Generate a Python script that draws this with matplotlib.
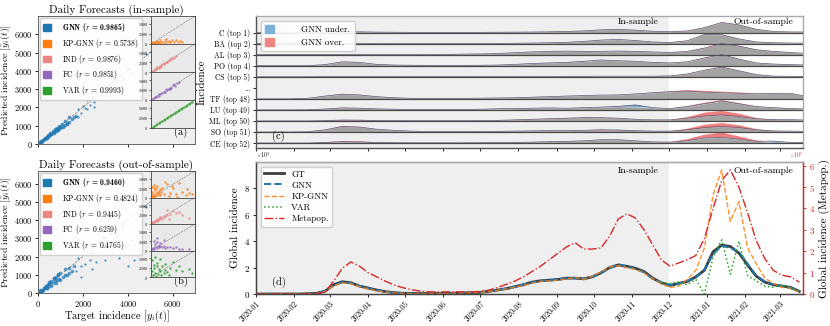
import numpy as np
import pandas as pd
import matplotlib
matplotlib.use('Agg')
import matplotlib.pyplot as plt
import matplotlib.dates as mdates
from matplotlib.patches import Patch

plt.rcParams['font.family'] = 'serif'
plt.rcParams['font.serif'] = ['cmr10']
plt.rcParams['mathtext.fontset'] = 'cm'
plt.rcParams['axes.formatter.use_mathtext'] = True
plt.rcParams['axes.unicode_minus'] = False

#### data ####
# scatter panels (a) in-sample, (b) out-of-sample
models = ['GNN', 'KP-GNN', 'IND', 'FC', 'VAR']
r_in = ['0.9865', '0.5738', '0.9876', '0.9851', '0.9993']
r_out = ['0.9460', '0.4824', '0.9445', '0.6259', '0.4765']

a_core_x = [30, 60, 90, 120, 150, 180, 220, 260, 300, 340, 380, 420, 460, 500, 550, 600, 650, 700, 750, 800,
            850, 900, 950, 1000, 1050, 1100, 1200, 1300, 1400, 1500, 100, 200, 300, 400, 500, 600, 700, 800,
            900, 1000, 1100, 1200, 1300, 1400, 1600, 1700]
a_core_y = [40, 50, 110, 100, 170, 160, 230, 250, 330, 310, 400, 390, 480, 470, 580, 560, 690, 650, 800, 740,
            880, 830, 1000, 920, 1100, 980, 1250, 1150, 1450, 1350, 60, 150, 260, 350, 430, 520, 600, 700,
            780, 900, 950, 1050, 1100, 1200, 1450, 1550]
a_sparse_x = [1800, 1900, 2000, 2100, 2200, 2300, 2400, 2500, 2600, 2700, 2800, 2900, 3000, 3100, 3200, 3300,
              3500, 3600, 3800, 4000, 4200, 4400, 4600, 4800, 2000, 2300, 2600, 3000, 3400, 1800, 2200, 2500]
a_sparse_y = [1900, 1700, 2100, 1950, 2400, 2150, 2500, 2300, 2800, 2600, 2700, 3100, 2900, 3300, 3000, 3500,
              3400, 3700, 3600, 4100, 3900, 4500, 4300, 4900, 2900, 2800, 3200, 2600, 3000, 1500, 1900, 2000]

b_core_x = [30, 60, 90, 120, 150, 180, 220, 260, 300, 340, 380, 420, 460, 500, 550, 600, 650, 700, 750, 800,
            850, 900, 950, 1000, 1100, 1200, 1300, 1400, 1500, 1600, 100, 200, 300, 400, 500, 600, 700, 800,
            900, 1000, 1200, 1400]
b_core_y = [20, 60, 70, 130, 110, 190, 180, 280, 250, 360, 300, 450, 380, 560, 470, 680, 550, 800, 640, 900,
            700, 1000, 780, 1100, 900, 1300, 1000, 1400, 1200, 1500, 150, 120, 350, 250, 600, 400, 850, 550,
            1050, 700, 1000, 1100]
b_sparse_x = [1700, 1800, 1900, 2000, 2100, 2200, 2300, 2400, 2500, 2600, 2700, 2800, 2900, 3000, 3100, 3200,
              3300, 3400, 3500, 3600, 3800, 3900, 4000, 4200, 4300, 4500, 4800, 2000, 2200, 2600, 3000, 1900, 2400]
b_sparse_y = [1200, 1900, 1500, 2300, 1600, 2500, 1800, 2200, 2600, 1700, 2900, 2400, 3100, 1800, 2700, 3300,
              2200, 2800, 3200, 1900, 3700, 2500, 1500, 2900, 1800, 2400, 4700, 4100, 3400, 4300, 3000, 900, 1300]

# inset scatters (KP-GNN, IND, FC, VAR)
a_kp_x = [100, 300, 500, 700, 900, 1100, 1300, 1500, 1800, 2000, 2200, 2500, 2800, 3000, 3300, 3600, 4000, 4300,
          4600, 5000, 200, 600, 1000, 1400, 2400]
a_kp_y = [50, 150, 300, 200, 400, 250, 500, 300, 600, 350, 700, 450, 800, 500, 900, 400, 1000, 600, 700, 500,
          400, 600, 800, 1000, 1200]
a_ind_x = [200, 400, 600, 800, 1000, 1200, 1400, 1600, 1800, 2000, 2200, 2500, 2800, 3000, 3300, 3600, 4000,
           1000, 1500, 2000, 2600, 3200]
a_ind_y = [300, 350, 700, 700, 1100, 1100, 1500, 1500, 1900, 1900, 2300, 2400, 2900, 2900, 3400, 3500, 4100,
           1300, 1300, 2300, 2500, 3500]
a_fc_x = [200, 400, 600, 800, 1000, 1200, 1500, 1800, 2000, 2200, 2500, 2800, 3000, 3200, 3500, 3800, 4200, 4500,
          1300, 2400, 3000, 3600]
a_fc_y = [250, 400, 700, 750, 1100, 1100, 1600, 1700, 2100, 2100, 2600, 2700, 3100, 3000, 3700, 3600, 4300, 4400,
          1600, 2700, 2800, 3900]
a_var_x = [50, 250, 500, 750, 1000, 1250, 1500, 1750, 2000, 2250, 2500, 2750, 3000, 3250, 3500, 3750, 4000, 4250,
           4500, 4750, 5000, 5250, 5500, 5750, 6000, 6250, 6500]
a_var_y = [60, 240, 510, 740, 1010, 1240, 1510, 1740, 2010, 2240, 2510, 2740, 3010, 3240, 3510, 3740, 4010, 4240,
           4510, 4740, 5010, 5240, 5510, 5740, 6010, 6240, 6510]

b_kp_x = [100, 200, 300, 400, 500, 600, 800, 1000, 1200, 1400, 1600, 1800, 2000, 300, 600, 900, 1200, 1500, 200,
          500, 800, 1100, 2500, 3000, 3500, 4000, 4500, 5000, 5500, 6000, 6500, 2200, 2800, 3300, 4200, 5800]
b_kp_y = [300, 1500, 800, 2500, 500, 2000, 1200, 3000, 800, 2200, 1500, 2600, 1000, 200, 400, 600, 1800, 700, 2800,
          3200, 2600, 1500, 3500, 1200, 2600, 800, 3800, 1500, 600, 1200, 900, 4200, 400, 3000, 200, 2200]
b_ind_x = [100, 300, 500, 700, 900, 1100, 1300, 1500, 1700, 2000, 2300, 2600, 3000, 3500, 4000, 4500, 5000, 6000,
           200, 600, 1000, 1400, 2500, 2800]
b_ind_y = [200, 300, 600, 700, 900, 1000, 1200, 1500, 1400, 1900, 2000, 2500, 2600, 3500, 2900, 3200, 2500, 1500,
           500, 900, 1300, 1800, 3800, 1200]
b_fc_x = [100, 300, 500, 700, 900, 1100, 1300, 1500, 1800, 2000, 2300, 2600, 3000, 3500, 4000, 4500, 5000, 6000,
          500, 900, 1400, 2100, 600, 1000]
b_fc_y = [300, 600, 400, 900, 700, 1200, 800, 1100, 900, 1300, 700, 1000, 900, 600, 800, 500, 400, 300,
          2500, 3300, 2000, 2800, 1600, 2200]
b_var_x = [100, 300, 500, 700, 900, 1100, 1300, 1500, 1800, 2000, 2300, 2600, 3000, 3500, 4000, 4500, 5000, 6000,
           6500, 200, 600, 1000, 1400, 400, 800, 1600, 2200, 2800]
b_var_y = [1500, 500, 2500, 1000, 3000, 800, 2000, 1500, 2800, 1000, 3500, 1200, 2500, 4000, 1800, 3000, 1500,
           2200, 1000, 4500, 5200, 3800, 4800, 3200, 200, 600, 1800, 500]

# panel (c): normalised incidence per province, every 14 days from 2020-01-01
row_labels = ['C (top 1)', 'BA (top 2)', 'AL (top 3)', 'PO (top 4)', 'CS (top 5)',
              'TF (top 48)', 'LU (top 49)', 'ML (top 50)', 'SO (top 51)', 'CE (top 52)']
gt_C = [0, 0, 0, 0, .02, .08, .07, .04, .03, .02, .02, .02, .02, .02, .03, .04, .05, .07, .10, .15, .25, .30, .22, .12, .08, .15, .45, .92, .70, .30, .10, .06, .05]
pr_C = [0, 0, 0, 0, .02, .09, .07, .04, .03, .02, .02, .02, .02, .02, .03, .04, .05, .08, .11, .16, .26, .31, .23, .13, .09, .18, .50, .95, .74, .33, .12, .07, .05]
gt_BA = [0, 0, 0, 0, .01, .03, .03, .02, .01, .01, .01, .01, .01, .01, .02, .03, .05, .08, .12, .20, .32, .38, .28, .15, .10, .25, .82, .80, .42, .15, .08, .05, .04]
pr_BA = [0, 0, 0, 0, .01, .04, .03, .02, .01, .01, .01, .01, .01, .01, .02, .03, .05, .08, .13, .21, .33, .37, .29, .16, .12, .28, .85, .84, .45, .17, .09, .06, .04]
gt_AL = [0, 0, 0, 0, 0, .02, .02, .01, .01, .01, .02, .03, .05, .07, .10, .18, .25, .30, .32, .30, .30, .33, .30, .25, .20, .30, .60, 1.0, .78, .45, .30, .20, .10]
pr_AL = [0, 0, 0, 0, 0, .02, .02, .01, .01, .01, .02, .03, .05, .08, .11, .19, .26, .31, .33, .32, .31, .34, .31, .26, .22, .34, .65, 1.04, .82, .48, .32, .22, .10]
gt_PO = [0, 0, 0, 0, .10, .35, .30, .12, .06, .04, .03, .03, .03, .04, .06, .12, .20, .25, .30, .40, .52, .45, .40, .30, .25, .35, .70, 1.0, .60, .25, .15, .10, .06]
pr_PO = [0, 0, 0, 0, .11, .38, .30, .13, .06, .04, .03, .03, .03, .04, .06, .12, .21, .26, .31, .42, .50, .47, .41, .31, .27, .38, .74, 1.03, .63, .27, .16, .11, .06]
gt_CS = [0, 0, 0, 0, .01, .03, .03, .02, .01, .01, .01, .01, .01, .01, .02, .02, .03, .03, .04, .04, .05, .05, .05, .05, .08, .25, .60, .88, .55, .20, .06, .04, .03]
pr_CS = [0, 0, 0, 0, .01, .03, .03, .02, .01, .01, .01, .01, .01, .01, .02, .02, .03, .03, .04, .04, .05, .05, .05, .06, .10, .28, .63, .92, .58, .22, .07, .04, .03]
gt_TF = [0, 0, 0, .05, .25, .42, .35, .20, .10, .05, .05, .05, .05, .06, .08, .10, .15, .20, .25, .30, .34, .35, .45, .55, .65, .70, .60, .55, .50, .45, .50, .50, .20]
pr_TF = [0, 0, 0, .05, .27, .45, .38, .21, .10, .05, .05, .05, .05, .06, .08, .11, .16, .21, .26, .31, .33, .37, .44, .58, .68, .80, .72, .65, .58, .50, .52, .50, .20]
gt_LU = [0, 0, 0, .01, .08, .18, .15, .10, .06, .04, .03, .03, .04, .06, .10, .12, .15, .18, .15, .20, .25, .32, .45, .20, .12, .30, .55, .80, .55, .30, .20, .12, .08]
pr_LU = [0, 0, 0, .01, .08, .20, .17, .10, .06, .04, .03, .03, .04, .05, .08, .12, .13, .17, .15, .20, .25, .30, .28, .20, .13, .35, .65, .88, .62, .33, .22, .13, .08]
gt_ML = [0, 0, 0, 0, .03, .08, .07, .04, .03, .02, .02, .02, .02, .03, .05, .10, .15, .20, .25, .30, .30, .25, .15, .10, .10, .25, .45, .55, .40, .20, .12, .12, .08]
pr_ML = [0, 0, 0, 0, .05, .14, .12, .06, .03, .02, .02, .02, .02, .03, .06, .11, .17, .23, .28, .34, .32, .27, .16, .11, .12, .40, .80, .95, .70, .30, .15, .12, .08]
gt_SO = [0, 0, 0, .02, .20, .50, .45, .25, .15, .08, .04, .04, .04, .05, .06, .08, .10, .12, .12, .15, .20, .18, .12, .08, .08, .20, .40, .50, .40, .20, .10, .08, .05]
pr_SO = [0, 0, 0, .02, .22, .55, .48, .26, .15, .08, .04, .04, .04, .05, .06, .08, .11, .13, .13, .17, .24, .21, .13, .09, .10, .35, .70, .85, .65, .30, .12, .08, .05]
gt_CE = [0, 0, 0, 0, .05, .12, .10, .05, .03, .02, .02, .02, .02, .03, .04, .06, .08, .12, .15, .20, .30, .30, .20, .10, .08, .20, .45, .50, .35, .15, .18, .05, .04]
pr_CE = [0, 0, 0, 0, .08, .18, .15, .07, .03, .02, .02, .02, .02, .03, .04, .06, .09, .13, .16, .22, .32, .31, .21, .11, .10, .35, .75, .95, .60, .25, .08, .06, .04]

# panel (d): global incidence, weekly from 2020-01-01
gt_global = [0, 0, 0, 0, 0, 0, 20, 50, 200, 700, 930, 850, 600, 450, 300, 180, 100,
             60, 50, 40, 40, 40, 50, 60, 80, 100, 120, 200, 300, 400, 550, 700,
             900, 1000, 1050, 1100, 1200, 1200, 1150, 1300, 1600, 2000, 2200, 2100, 1950, 1700, 1200, 850,
             650, 800, 950, 1300, 1800, 3200, 3700, 3600, 3100, 2200, 1350, 900, 700, 600, 500, 200]
gnn_global = [0, 0, 0, 0, 0, 0, 20, 60, 250, 650, 900, 820, 620, 430, 290, 170, 100,
              60, 50, 40, 40, 40, 50, 60, 80, 110, 130, 210, 290, 420, 540, 720,
              880, 1010, 1030, 1120, 1180, 1220, 1130, 1320, 1580, 1950, 2250, 2080, 1900, 1650, 1150, 880,
              680, 780, 1000, 1250, 1850, 3000, 3650, 3500, 3200, 2300, 1400, 950, 720, 580, 480, 220]
kpgnn_global = [0, 0, 0, 0, 0, 0, 10, 40, 180, 620, 850, 780, 560, 380, 250, 150, 80,
                50, 40, 40, 40, 40, 50, 60, 80, 100, 120, 180, 280, 380, 520, 650,
                820, 950, 1000, 1050, 1150, 1250, 1100, 1350, 1650, 2050, 2150, 2000, 1850, 1600, 1150, 800,
                500, 600, 1100, 1800, 3500, 7500, 9400, 5500, 7000, 3500, 2300, 1200, 800, 500, 450, 150]
var_global = [850, 800, 900, 700, 1100, 0, 2800, 4100, 1500, 4000, 1400, 1000, 600, 500, 700, 400, 200]  # from week 47
metapop_global = [0, 0, 0, 0, 0, 0, 0, 0.02, 0.1, 0.6, 1.2, 1.5, 1.3, 1.0, 0.8, 0.6, 0.42, 0.3, 0.2, 0.14,
                  0.1, 0.1, 0.1, 0.1, 0.1, 0.1, 0.12, 0.18, 0.3, 0.45, 0.6, 0.8, 1.05, 1.3, 1.6, 1.9, 2.2, 2.4,
                  2.1, 2.1, 2.15, 2.7, 3.5, 3.75, 3.55, 3.0, 2.3, 1.6, 1.3, 1.45, 1.6, 1.8, 2.6, 4.0, 5.3, 5.8,
                  5.0, 3.8, 2.5, 1.65, 1.1, 0.88, 0.8, 0.55]  # x 1e5

dates_c = pd.date_range('2020-01-01', periods=len(gt_C), freq='14D')
dates_d = pd.date_range('2020-01-01', periods=len(gt_global), freq='7D')
split_date = pd.Timestamp('2020-12-01')
start_date = pd.Timestamp('2020-01-01')
end_date = pd.Timestamp('2021-03-20')

#### style ####
colors = ['#1f77b4', '#ff7f0e', '#ee8480', '#9467bd', '#2ca02c']
c_red = '#d62728'
grey_bg = '#efefef'
W, H = 830, 326


def rect(x0, y0, x1, y1):
    # pixel box -> figure fraction
    return [x0 / W, 1 - y1 / H, (x1 - x0) / W, (y1 - y0) / H]


fig = plt.figure(figsize=(8.3, 3.26), dpi=100)


#### scatter panels ####
def scatter_panel(box, inset_top, inset_h, title, tag, core, sparse, insets, rvals, ytop, show_x):
    ax = fig.add_axes(rect(*box))
    ax.set_facecolor(grey_bg)
    ax.axline((0, 0), slope=1, ls='--', color='#777777', lw=0.5, zorder=1)
    ax.scatter(core[0], core[1], s=7, color=colors[0], alpha=0.7, lw=0, zorder=2)
    ax.scatter(sparse[0], sparse[1], s=2.5, color=colors[0], alpha=0.8, lw=0, zorder=2)
    ax.set_xlim(0, 7000)
    ax.set_ylim(0, ytop)
    ax.set_xticks([0, 2000, 4000, 6000])
    ax.set_yticks([0, 1000, 2000, 3000, 4000, 5000, 6000])
    ax.tick_params(labelsize=6, length=2.5, width=0.6, pad=1.5)
    if not show_x:
        ax.set_xticklabels([])
    else:
        ax.set_xlabel(r'Target incidence [$y_i(t)$]', fontsize=7.5, labelpad=0)
    ax.set_ylabel(r'Predicted incidence [$\hat{y}_i(t)$]', fontsize=7, labelpad=0.5)
    ax.set_title(title, fontsize=8, pad=2)
    for sp in ax.spines.values():
        sp.set_color('#666666')
        sp.set_linewidth(0.7)
    handles = [Patch(color=c) for c in colors]
    labels = [m + ' ($r$ = ' + r + ')' for m, r in zip(models, rvals)]
    leg = ax.legend(handles, labels, loc='upper left', fontsize=5.5, handlelength=1.0, handleheight=1.0,
                    handletextpad=1.5, borderpad=0.4, labelspacing=0.35, framealpha=0.9, borderaxespad=0.3)
    leg.get_texts()[0].set_fontfamily('cmb10')
    ax.text(0.91, 0.05, tag, transform=ax.transAxes, fontsize=7.5, ha='center', va='bottom')

    for k, (xs, ys) in enumerate(insets):
        top = inset_top + k * inset_h
        axi = fig.add_axes(rect(151, top, 195, top + inset_h))
        axi.set_facecolor('#e9e9e9')
        axi.axline((0, 0), slope=1, ls='--', color='#777777', lw=0.4, zorder=1)
        axi.scatter(xs, ys, s=3, color=colors[k + 1], alpha=0.8, lw=0, zorder=2)
        axi.set_xlim(0, 7000)
        axi.set_ylim(0, 7000)
        axi.set_xticks([])
        axi.set_yticks([0, 2500, 5000])
        axi.tick_params(labelsize=3, length=1.2, width=0.4, pad=0.8)
        for sp in axi.spines.values():
            sp.set_color('#444444')
            sp.set_linewidth(0.6)
    return ax


scatter_panel((38, 16, 195, 144), 16, 28, 'Daily Forecasts (in-sample)', '(a)',
              (a_core_x, a_core_y), (a_sparse_x, a_sparse_y),
              [(a_kp_x, a_kp_y), (a_ind_x, a_ind_y), (a_fc_x, a_fc_y), (a_var_x, a_var_y)],
              r_in, 7000, False)
scatter_panel((38, 171, 195, 293), 171, 26.5, 'Daily Forecasts (out-of-sample)', '(b)',
              (b_core_x, b_core_y), (b_sparse_x, b_sparse_y),
              [(b_kp_x, b_kp_y), (b_ind_x, b_ind_y), (b_fc_x, b_fc_y), (b_var_x, b_var_y)],
              r_out, 6700, True)

#### panel (c) ####
ax_c = fig.add_axes(rect(256, 16, 803, 148))
ax_c.axvspan(start_date, split_date, color=grey_bg, lw=0, zorder=0)
rows_gt = [gt_C, gt_BA, gt_AL, gt_PO, gt_CS, gt_TF, gt_LU, gt_ML, gt_SO, gt_CE]
rows_pr = [pr_C, pr_BA, pr_AL, pr_PO, pr_CS, pr_TF, pr_LU, pr_ML, pr_SO, pr_CE]
row_base = [10, 9, 8, 7, 6, 4, 3, 2, 1, 0]
for base, g, p in zip(row_base, rows_gt, rows_pr):
    g = np.array(g)
    p = np.array(p)
    ax_c.fill_between(dates_c, base, base + np.minimum(g, p), color='#a3a3a3', lw=0, zorder=1)
    ax_c.fill_between(dates_c, base + g, base + p, where=p >= g, interpolate=True,
                      color='#ee7f7f', lw=0, zorder=2)
    ax_c.fill_between(dates_c, base + g, base + p, where=p < g, interpolate=True,
                      color='#6a9fcf', lw=0, zorder=2)
    ax_c.plot(dates_c, base + g, color='#5a5a7a', lw=0.5, zorder=3)
    ax_c.axhline(base, color='#4a4a4a', lw=0.9, zorder=3)
ax_c.set_yticks([10, 9, 8, 7, 6, 5, 4, 3, 2, 1, 0])
ax_c.set_yticklabels(row_labels[:5] + ['...'] + row_labels[5:], fontsize=5.5)
ax_c.set_ylim(-0.45, 11.5)
ax_c.set_xlim(start_date, end_date)
ax_c.xaxis.set_major_locator(mdates.MonthLocator())
ax_c.set_xticklabels([])
ax_c.tick_params(length=2.5, width=0.6, pad=1.5)
ax_c.set_ylabel('Incidence', fontsize=8, labelpad=2)
ax_c.legend([Patch(color='#7fb0d8'), Patch(color='#ef8585')], ['GNN under.', 'GNN over.'],
            loc='upper left', fontsize=6.5, handlelength=1.0, handleheight=1.0, handletextpad=3.0,
            borderpad=0.5, labelspacing=0.4, framealpha=0.9, borderaxespad=0.5)
ax_c.text(split_date - pd.Timedelta(days=8), 11.0, 'In-sample', fontsize=7, ha='right', va='center')
ax_c.text(end_date - pd.Timedelta(days=8), 11.0, 'Out-of-sample', fontsize=7, ha='right', va='center')
ax_c.text(0.03, 0.07, '(c)', transform=ax_c.transAxes, fontsize=7.5)
for name, sp in ax_c.spines.items():
    sp.set_color('#555555' if name in ('left', 'bottom') else '#aaaaaa')
    sp.set_linewidth(1.0)

#### panel (d) ####
ax_d = fig.add_axes(rect(256, 162, 803, 294))
ax_d.set_facecolor('white')
ax_d.axvspan(start_date, split_date, color=grey_bg, lw=0, zorder=0)
l_gt, = ax_d.plot(dates_d, gt_global, color='#3d3d3d', lw=2.0, label='GT')
l_gnn, = ax_d.plot(dates_d, gnn_global, '--', color=colors[0], lw=1.4, label='GNN')
l_kp, = ax_d.plot(dates_d, kpgnn_global, '--', color=colors[1], lw=1.0, alpha=0.85, label='KP-GNN')
l_var, = ax_d.plot(dates_d[47:], var_global, ':', color=colors[4], lw=1.1, label='VAR')
ax_d.set_ylim(0, 10000)
ax_d.set_yticks([0, 2000, 4000, 6000, 8000])
ax_d.ticklabel_format(axis='y', style='sci', scilimits=(0, 0))
ax_d.yaxis.get_offset_text().set_fontsize(4)
ax_d.set_xlim(start_date, end_date)
ax_d.xaxis.set_major_locator(mdates.MonthLocator())
ax_d.xaxis.set_major_formatter(mdates.DateFormatter('%Y-%m'))
plt.setp(ax_d.get_xticklabels(), rotation=45, ha='right', rotation_mode='anchor', fontsize=5.5)
ax_d.tick_params(axis='y', labelsize=6.5)
ax_d.tick_params(length=2.5, width=0.6, pad=1.5)
ax_d.set_ylabel('Global incidence', fontsize=8, labelpad=3)

ax_r = ax_d.twinx()
l_meta, = ax_r.plot(dates_d, np.array(metapop_global) * 1e5, '-.', color=c_red, lw=1.0, label='Metapop.')
ax_r.set_ylim(0, 6.17e5)
ax_r.set_yticks([0, 1e5, 2e5, 3e5, 4e5, 5e5, 6e5])
ax_r.ticklabel_format(axis='y', style='sci', scilimits=(0, 0))
ax_r.yaxis.get_offset_text().set_fontsize(4)
ax_r.yaxis.get_offset_text().set_color(c_red)
ax_r.tick_params(axis='y', colors=c_red, labelsize=6.5, length=2.5, width=0.6, pad=1.5)
ax_r.set_ylabel('Global incidence (Metapop.)', fontsize=8, labelpad=3)
ax_r.legend([l_gt, l_gnn, l_kp, l_var, l_meta], ['GT', 'GNN', 'KP-GNN', 'VAR', 'Metapop.'],
            loc='upper left', fontsize=6.5, handlelength=2.2, borderpad=0.4, labelspacing=0.3,
            framealpha=0.9, borderaxespad=0.5)
ax_r.text(split_date - pd.Timedelta(days=8), 5.75e5, 'In-sample', fontsize=7, ha='right', va='center')
ax_r.text(end_date - pd.Timedelta(days=8), 5.75e5, 'Out-of-sample', fontsize=7, ha='right', va='center')
ax_d.text(0.03, 0.07, '(d)', transform=ax_d.transAxes, fontsize=7.5)
for name, sp in ax_r.spines.items():
    if name == 'right':
        sp.set_color(c_red)
    elif name in ('left', 'bottom'):
        sp.set_color('#444444')
    else:
        sp.set_color('#aaaaaa')
    sp.set_linewidth(1.0)

fig.savefig('out.png', dpi=100)
